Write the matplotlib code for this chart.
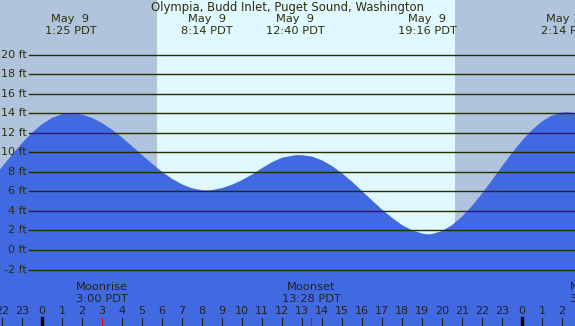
import matplotlib
matplotlib.use("Agg")
import matplotlib.pyplot as plt

# tide heights (ft), hours after midnight May 9
tide_hours = [-2.5, -2.0, -1.5, -1.0, -0.5, 0.0, 0.5, 1.0, 1.42, 2.0, 2.5, 3.0, 3.5,
              4.0, 4.5, 5.0, 5.5, 6.0, 6.5, 7.0, 7.5, 8.0, 8.23, 8.5, 9.0, 9.5,
              10.0, 10.5, 11.0, 11.5, 12.0, 12.67, 13.0, 13.5, 14.0, 14.5, 15.0,
              15.5, 16.0, 16.5, 17.0, 17.5, 18.0, 18.5, 19.0, 19.27, 19.5, 20.0,
              20.5, 21.0, 21.5, 22.0, 22.5, 23.0, 23.5, 24.0, 24.5, 25.0, 25.5,
              26.0, 26.23, 26.5, 27.0]
tide_ft = [7.25, 8.5, 9.75, 10.94, 12.0, 12.87, 13.52, 13.9, 14.0, 13.86, 13.52,
           13.0, 12.32, 11.52, 10.64, 9.73, 8.84, 8.01, 7.29, 6.72, 6.32, 6.12,
           6.1, 6.13, 6.34, 6.68, 7.15, 7.72, 8.38, 8.98, 9.45, 9.7, 9.7, 9.56,
           9.18, 8.6, 7.86, 6.99, 6.04, 5.08, 4.14, 3.3, 2.55, 2.03, 1.69, 1.6,
           1.63, 1.94, 2.54, 3.41, 4.51, 5.77, 7.14, 8.56, 9.93, 11.19, 12.29,
           13.16, 13.76, 14.07, 14.1, 14.05, 13.8]

event_hours = [1.42, 8.23, 12.67, 19.27, 26.23]
event_dates = ["May  9", "May  9", "May  9", "May  9", "May 10"]
event_times = ["1:25 PDT", "8:14 PDT", "12:40 PDT", "19:16 PDT", "2:14 PDT"]

moon_hours = [3.0, 13.47, 27.7]
moon_names = ["Moonrise", "Moonset", "Moonrise"]
moon_times = ["3:00 PDT", "13:28 PDT", "3:42 PDT"]

sunrise = 5.75
sunset = 20.65
ft_levels = [20, 18, 16, 14, 12, 10, 8, 6, 4, 2, 0, -2]
hour_ticks = list(range(-2, 27))

title = "Olympia, Budd Inlet, Puget Sound, Washington"

W, H = 575, 326
x0, x1 = -2.1, 26.65
y0, y1 = -7.78, 25.59
txt = "#2e2e08"

fig = plt.figure(figsize=(W / 100, H / 100), dpi=100)
ax = fig.add_axes([0, 0, 1, 1])
ax.set_xlim(x0, x1)
ax.set_ylim(y0, y1)
ax.axis("off")

def fy(px):
    return 1 - px / H

tr = ax.get_xaxis_transform()

ax.axvspan(x0, sunrise, color="#b0c4de", zorder=0, lw=0)
ax.axvspan(sunrise, sunset, color="#e0f8ff", zorder=0, lw=0)
ax.axvspan(sunset, x1, color="#b0c4de", zorder=0, lw=0)

ax.fill_between(tide_hours, tide_ft, y0 - 1, color="#4169e1", lw=0, zorder=1)

gx = x0 + 29 / 20
for lv in ft_levels:
    ax.plot([gx, x1], [lv, lv], color="#2b2b00", lw=1.0, zorder=2)
    ax.text(x0 + 27 / 20, lv, "%d ft" % lv, ha="right", va="center",
            fontsize=8, color=txt, zorder=3)

ax.text(0.5, fy(7), title, transform=ax.transAxes, ha="center", va="center",
        fontsize=8.4, color=txt)
for h, d, t in zip(event_hours, event_dates, event_times):
    ax.text(h, fy(19), d, transform=tr, ha="center", va="center", fontsize=8.2, color=txt)
    ax.text(h, fy(31), t, transform=tr, ha="center", va="center", fontsize=8.2, color=txt)

for h, n, t in zip(moon_hours, moon_names, moon_times):
    ax.text(h, fy(287), n, transform=tr, ha="center", va="center", fontsize=8.2,
            color="#222222", clip_on=False)
    ax.text(h, fy(299), t, transform=tr, ha="center", va="center", fontsize=8.2,
            color="#222222", clip_on=False)

for h in hour_ticks:
    ax.text(h, fy(311), str(h % 24), transform=tr, ha="center", va="center",
            fontsize=8, color="#222222")
    if h % 24 == 0:
        ax.plot([h, h], [0, fy(318)], transform=tr, color="black", lw=2.4, zorder=3)
    elif h not in moon_hours:
        ax.plot([h, h], [0, fy(318)], transform=tr, color="#222222", lw=0.8, zorder=3)
for h in moon_hours:
    ax.plot([h, h], [0, fy(318)], transform=tr, color="red", lw=0.8, zorder=3)

fig.savefig("out.png", dpi=100)
